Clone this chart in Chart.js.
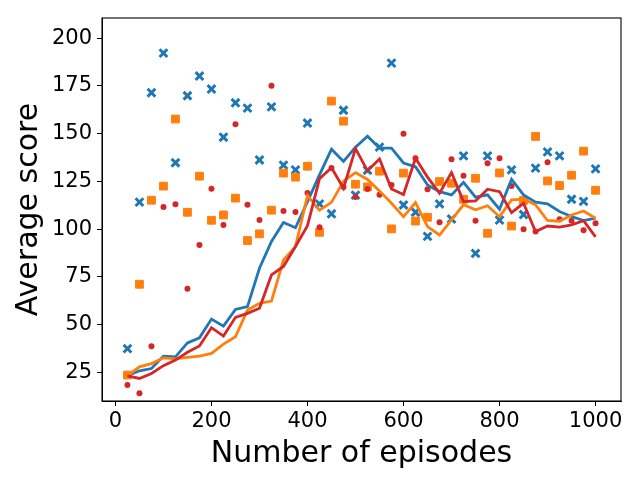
<!DOCTYPE html>
<html>
<head>
<meta charset="utf-8">
<title>Average score</title>
<script src="https://cdn.jsdelivr.net/npm/chart.js"></script>
<style>
  html, body { margin: 0; padding: 0; background: #fff; }
  #wrap { width: 640px; height: 480px; }
</style>
</head>
<body>
<div id="wrap"><canvas id="chart" width="640" height="480"></canvas></div>
<script>
const episodes = [25, 50, 75, 100, 125, 150, 175, 200, 225, 250,
    275, 300, 325, 350, 375, 400, 425, 450, 475, 500,
    525, 550, 575, 600, 625, 650, 675, 700, 725, 750,
    775, 800, 825, 850, 875, 900, 925, 950, 975, 1000];

// raw scores (markers)
const blueRaw = [37.4, 114.1, 171.4, 192.1, 134.7, 169.8, 180.1, 173.3, 148.1, 166.1,
    163.3, 136.2, 164.0, 133.5, 131.0, 155.5, 113.2, 108.0, 162.2, 117.8,
    130.8, 142.9, 186.9, 112.6, 108.8, 96.2, 113.2, 105.3, 138.3, 87.3,
    138.3, 104.7, 131.0, 107.6, 131.9, 140.4, 138.3, 115.6, 114.5, 131.5];
const orangeRaw = [23.6, 71.1, 115.1, 122.5, 157.6, 108.8, 127.7, 104.6, 107.4, 116.2,
    94.0, 97.5, 109.9, 129.3, 127.2, 132.9, 98.3, 167.0, 156.5, 123.5,
    122.1, 130.3, 100.1, 129.3, 104.2, 106.2, 124.9, 124.0, 115.6, 126.6,
    97.8, 129.4, 101.6, 115.0, 148.5, 125.2, 122.8, 128.2, 140.8, 120.3];
const redRaw = [18.4, 14.0, 38.6, 111.5, 113.0, 68.7, 91.7, 121.1, 102.2, 154.9,
    112.7, 104.8, 175.0, 109.5, 108.9, 118.9, 101.0, 132.0, 122.0, 116.8,
    121.0, 118.0, 123.1, 149.9, 137.1, 120.9, 103.6, 136.6, 127.9, 104.3,
    134.5, 137.1, 122.6, 99.9, 98.7, 135.0, 105.2, 104.3, 99.4, 103.1];

// averaged scores (lines)
const blueAvg = [23.2, 25.8, 27.0, 33.5, 33.1, 40.4, 43.1, 52.9, 49.2, 57.9,
    59.4, 79.5, 93.5, 103.4, 100.7, 114.4, 128.4, 141.8, 135.4, 142.9,
    148.6, 142.4, 142.4, 134.6, 132.6, 123.1, 119.6, 117.9, 124.5, 116.7,
    117.9, 110.4, 126.1, 117.9, 114.1, 113.2, 109.2, 106.6, 104.4, 105.7];
const orangeAvg = [23.2, 27.9, 29.6, 32.6, 32.1, 32.8, 33.5, 34.9, 39.8, 43.6,
    57.6, 61.1, 62.3, 83.8, 90.8, 117.5, 109.9, 114.0, 125.1, 129.6,
    126.0, 120.0, 113.5, 106.5, 113.9, 101.3, 96.9, 104.8, 112.7, 110.1,
    112.2, 106.5, 115.3, 115.7, 112.7, 104.5, 104.1, 107.4, 109.5, 105.7];
const redAvg = [23.2, 21.8, 24.4, 28.5, 31.4, 35.5, 38.8, 48.4, 44.0, 53.8,
    55.9, 58.6, 76.0, 80.4, 90.9, 101.8, 126.3, 132.1, 121.4, 142.1,
    130.5, 136.7, 121.0, 118.1, 137.1, 127.2, 118.8, 129.6, 114.4, 114.7,
    120.9, 119.6, 108.6, 113.5, 98.7, 101.6, 101.0, 102.2, 104.4, 95.9];

const xTicks = [0, 200, 400, 600, 800, 1000];
const yTicks = [25, 50, 75, 100, 125, 150, 175, 200];

const BLUE = "#1f77b4";
const ORANGE = "#ff7f0e";
const RED = "#d62728";
const FONT = "'DejaVu Sans', sans-serif";

function toPoints(values) {
    return episodes.map((x, i) => ({ x: x, y: values[i] }));
}

function lineSet(values, color, order) {
    return {
        data: toPoints(values),
        showLine: true,
        borderColor: color,
        borderWidth: 2.8,
        pointRadius: 0,
        fill: false,
        order: order
    };
}

function markerSet(values, color, style, radius, width, order) {
    return {
        data: toPoints(values),
        showLine: false,
        pointStyle: style,
        pointRadius: radius,
        pointBorderWidth: width,
        pointBackgroundColor: color,
        pointBorderColor: color,
        order: order
    };
}

// matplotlib style box around the plot area
const boxPlugin = {
    id: "box",
    afterDraw(chart) {
        const a = chart.chartArea;
        const ctx = chart.ctx;
        ctx.save();
        ctx.strokeStyle = "#000";
        ctx.lineWidth = 1.1;
        ctx.strokeRect(a.left, a.top, a.right - a.left, a.bottom - a.top);
        ctx.restore();
    }
};

new Chart(document.getElementById("chart").getContext("2d"), {
    type: "scatter",
    data: {
        datasets: [
            lineSet(redAvg, RED, 0),
            lineSet(orangeAvg, ORANGE, 1),
            lineSet(blueAvg, BLUE, 2),
            markerSet(redRaw, RED, "circle", 3, 0, 3),
            markerSet(orangeRaw, ORANGE, "rect", 5.5, 1, 4),
            markerSet(blueRaw, BLUE, "crossRot", 5.5, 3, 5)
        ]
    },
    options: {
        responsive: false,
        devicePixelRatio: 1,
        animation: false,
        layout: { padding: { top: 18, right: 19, left: 0, bottom: 0 } },
        plugins: {
            legend: { display: false },
            tooltip: { enabled: false }
        },
        scales: {
            x: {
                type: "linear",
                min: -28,
                max: 1053,
                afterBuildTicks: s => { s.ticks = xTicks.map(v => ({ value: v })); },
                afterFit: s => { s.height = 79; },
                ticks: {
                    color: "#000",
                    font: { family: FONT, size: 21 },
                    padding: 3,
                    maxRotation: 0,
                    callback: v => String(v)
                },
                grid: { drawOnChartArea: false, drawTicks: true, tickLength: 5, tickColor: "#000", color: "#000" },
                border: { display: true, color: "#000", width: 1 },
                title: {
                    display: true,
                    text: "Number of episodes",
                    color: "#000",
                    font: { family: FONT, size: 30 },
                    padding: { top: 0, bottom: 8 }
                }
            },
            y: {
                type: "linear",
                min: 10,
                max: 210.5,
                afterBuildTicks: s => { s.ticks = yTicks.map(v => ({ value: v })); },
                afterFit: s => { s.width = 102; },
                ticks: {
                    color: "#000",
                    font: { family: FONT, size: 21 },
                    padding: 5,
                    callback: v => String(v)
                },
                grid: { drawOnChartArea: false, drawTicks: true, tickLength: 5, tickColor: "#000", color: "#000" },
                border: { display: true, color: "#000", width: 1 },
                title: {
                    display: true,
                    text: "Average score",
                    color: "#000",
                    font: { family: FONT, size: 30 },
                    padding: { top: 11, bottom: 0 }
                }
            }
        }
    },
    plugins: [boxPlugin]
});
</script>
</body>
</html>
